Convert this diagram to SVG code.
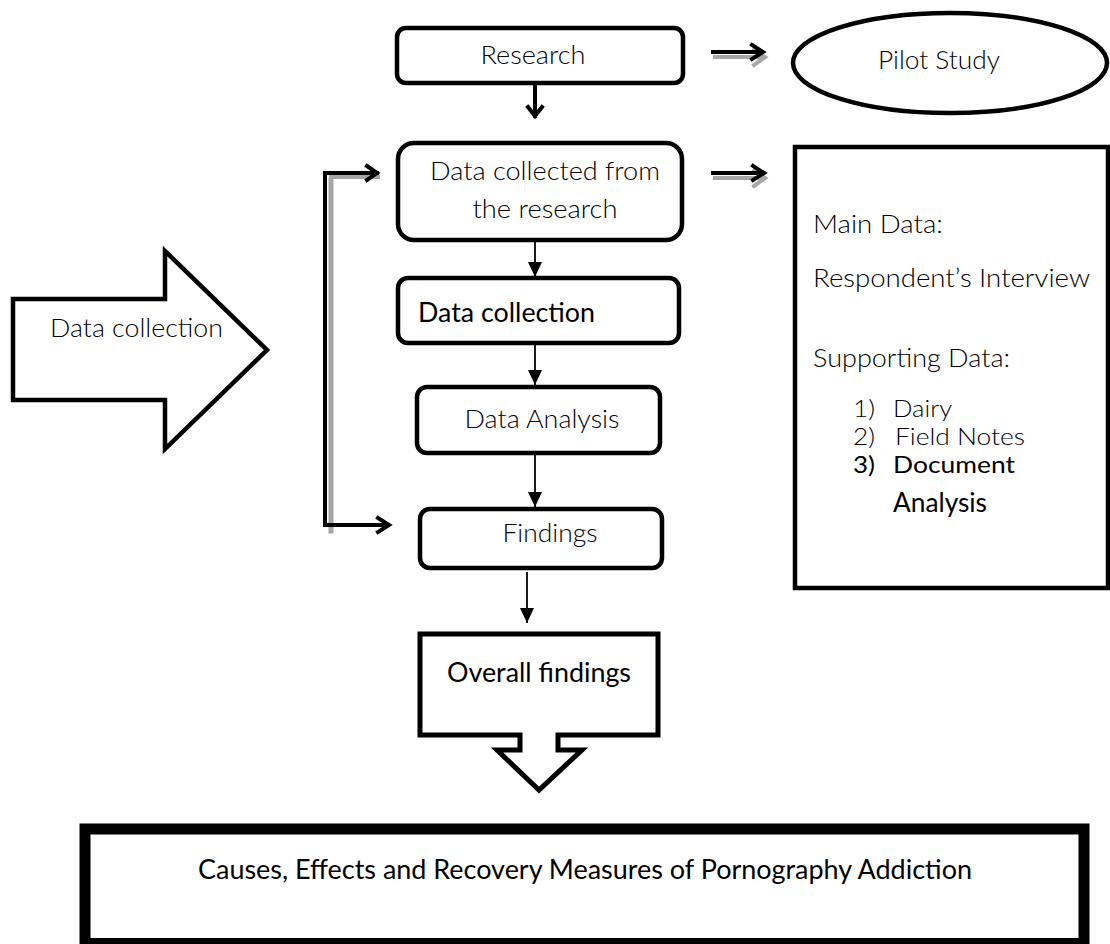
<svg xmlns="http://www.w3.org/2000/svg" width="1110" height="944" viewBox="0 0 1110 944">
<defs>
<style>
.box{fill:#fff;stroke:#000;stroke-width:4.5}
.lt{font-family:Lato,"Liberation Sans",sans-serif;font-weight:300;font-size:26px;fill:#000}
.rg{font-family:Lato,"Liberation Sans",sans-serif;font-weight:400;font-size:26px;fill:#000}
.li{font-size:23px}
.thick{fill:none;stroke:#000;stroke-width:4;stroke-linecap:square;stroke-linejoin:miter}
.shadow{fill:none;stroke:#a6a6a6;stroke-width:4;stroke-linecap:square}
.thin{fill:none;stroke:#000;stroke-width:1.8}
</style>
<marker id="tri" markerUnits="userSpaceOnUse" markerWidth="16" markerHeight="16" viewBox="0 0 16 16" refX="15" refY="8" orient="auto">
<path d="M0,1 L15,8 L0,15 Z" fill="#000"/>
</marker>
</defs>
<rect width="1110" height="944" fill="#fff"/>

<g id="connectors">
<path class="shadow" d="M714,55 L763,55 M753,48 L764,55 L753,63" transform="translate(1,2)"/>
<path class="thick" d="M713,52 L762,52 M752,45 L763,52 L752,59"/>
<path class="thick" d="M535,85 L535,116 M528,107 L535,116 L542,107"/>
<path class="shadow" d="M714,176 L763,176 M753,169 L764,176 L753,184" transform="translate(1,2)"/>
<path class="thick" d="M713,173 L763,173 M753,166 L764,173 L753,180"/>
<path class="shadow" d="M331,180 L331,531" style="stroke-width:5"/>
<path class="shadow" d="M331,176 L378,176" transform="translate(0,1)"/>
<path class="thick" d="M377,173 L325,173 L325,525 L388,525"/>
<path class="thick" d="M367,166 L377,173 L367,180"/>
<path class="thick" d="M378,518 L389,525 L378,532"/>
<line class="thin" x1="535" y1="237" x2="535" y2="277" marker-end="url(#tri)"/>
<line class="thin" x1="535" y1="345" x2="535" y2="385" marker-end="url(#tri)"/>
<line class="thin" x1="535" y1="455" x2="535" y2="507" marker-end="url(#tri)"/>
<line class="thin" x1="527" y1="572" x2="527" y2="623" marker-end="url(#tri)"/>
</g>

<g id="research">
<rect class="box" x="397" y="28" width="286" height="55" rx="9"/>
<text class="lt" x="533" y="64" text-anchor="middle" textLength="105" lengthAdjust="spacingAndGlyphs">Research</text>
</g>

<g id="pilot-study">
<ellipse class="box" cx="950" cy="63" rx="157" ry="50"/>
<text class="lt" x="939" y="69" text-anchor="middle" textLength="122" lengthAdjust="spacingAndGlyphs">Pilot Study</text>
</g>

<g id="data-collected">
<rect class="box" x="398" y="143" width="284" height="97" rx="16"/>
<text class="lt" x="545" y="180" text-anchor="middle" textLength="230" lengthAdjust="spacingAndGlyphs">Data collected from</text>
<text class="lt" x="545" y="218" text-anchor="middle" textLength="145" lengthAdjust="spacingAndGlyphs">the research</text>
</g>

<g id="data-collection-box">
<rect class="box" x="398" y="278" width="281" height="65" rx="10"/>
<text class="rg" x="418" y="322" textLength="177" lengthAdjust="spacingAndGlyphs">Data collection</text>
</g>

<g id="data-analysis">
<rect class="box" x="417" y="387" width="243" height="66" rx="10"/>
<text class="lt" x="542" y="428" text-anchor="middle" textLength="155" lengthAdjust="spacingAndGlyphs">Data Analysis</text>
</g>

<g id="findings">
<rect class="box" x="420" y="509" width="242" height="59" rx="10"/>
<text class="lt" x="550" y="542" text-anchor="middle" textLength="95" lengthAdjust="spacingAndGlyphs">Findings</text>
</g>

<g id="overall-findings">
<path class="box" style="stroke-width:5" d="M420,634 L658,634 L658,735 L558,735 L558,750 L582,750 L539,790 L497,750 L520,750 L520,735 L420,735 Z"/>
<text class="rg" x="539" y="682" text-anchor="middle" textLength="184" lengthAdjust="spacingAndGlyphs">Overall findings</text>
</g>

<g id="data-collection-arrow">
<path class="box" d="M13,299 L165,299 L165,251 L267,350 L165,449 L165,400 L13,400 Z"/>
<text class="lt" x="50" y="337" textLength="173" lengthAdjust="spacingAndGlyphs">Data collection</text>
</g>

<g id="data-sources">
<rect class="box" x="795" y="147" width="313" height="441"/>
<text class="lt" x="813" y="233" textLength="130" lengthAdjust="spacingAndGlyphs">Main Data:</text>
<text class="lt" x="813" y="287" textLength="277" lengthAdjust="spacingAndGlyphs">Respondent’s Interview</text>
<text class="lt" x="813" y="367" textLength="197" lengthAdjust="spacingAndGlyphs">Supporting Data:</text>
<text class="lt li" x="853" y="417" textLength="22" lengthAdjust="spacingAndGlyphs">1)</text>
<text class="lt li" x="893" y="417" textLength="59" lengthAdjust="spacingAndGlyphs">Dairy</text>
<text class="lt li" x="853" y="445" textLength="22" lengthAdjust="spacingAndGlyphs">2)</text>
<text class="lt li" x="895" y="445" textLength="130" lengthAdjust="spacingAndGlyphs">Field Notes</text>
<text class="rg li" x="853" y="473" textLength="22" lengthAdjust="spacingAndGlyphs">3)</text>
<text class="rg li" x="893" y="473" textLength="122" lengthAdjust="spacingAndGlyphs">Document</text>
<text class="rg" x="893" y="512" textLength="94" lengthAdjust="spacingAndGlyphs">Analysis</text>
</g>

<g id="conclusion">
<rect x="85" y="829" width="999" height="114.5" fill="#fff" stroke="#000" stroke-width="11"/>
<text class="rg" x="585" y="879" text-anchor="middle" textLength="774" lengthAdjust="spacingAndGlyphs">Causes, Effects and Recovery Measures of Pornography Addiction</text>
</g>
</svg>
